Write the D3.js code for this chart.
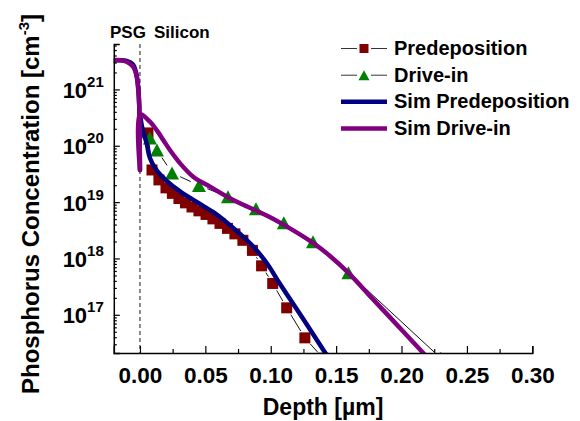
<!DOCTYPE html>
<html>
<head>
<meta charset="utf-8">
<script src="https://cdn.jsdelivr.net/npm/d3@7"></script>
<style>
  body { margin: 0; background: #fff; }
  svg { display: block; }
  text { font-family: "Liberation Sans", Arial, sans-serif; font-weight: bold; fill: #000; }
</style>
</head>
<body>
<svg id="chart" width="580" height="421"></svg>
<script>
// Measured phosphorus profiles (depth in µm, concentration in cm^-3)
const predepDepth = [0.0061, 0.0092, 0.0145, 0.0199, 0.0248, 0.0298, 0.0348, 0.0398, 0.0451, 0.0505,
                     0.0558, 0.0612, 0.0669, 0.0726, 0.0787, 0.0860, 0.0930, 0.1015, 0.1122, 0.1261, 0.1400];
const predepConc  = [1.69e20, 3.72e19, 2.48e19, 1.79e19, 1.43e19, 1.16e19, 9.7e18, 8.2e18, 7.0e18, 6.05e18,
                     5.04e18, 4.19e18, 3.42e18, 2.73e18, 2.1e18, 1.39e18, 7.4e17, 3.6e17, 1.33e17, 3.9e16, 1.7e16];

const driveDepth = [0.0076, 0.0130, 0.0245, 0.0451, 0.0673, 0.0887, 0.1100, 0.1323, 0.1594, 0.2300];
const driveConc  = [1.37e20, 8.4e19, 3.3e19, 1.98e19, 1.24e19, 7.6e18, 4.3e18, 1.97e18, 5.6e17, 1.7e16];

// Simulated profiles, PSG side (negative depth) then silicon side
const simPreDepth = [-0.0204, -0.015, -0.0102, -0.0055, -0.003, -0.0015, -0.0006, 0, 0, 0.0013, 0.0025, 0.0051,
                     0.0076, 0.0128, 0.0204, 0.0306, 0.0433, 0.0558, 0.0663, 0.0765, 0.0866, 0.0969, 0.1070,
                     0.1236, 0.1401, 0.1491];
const simPreConc  = [3.3e21, 3.3e21, 3.2e21, 2.8e21, 2.0e21, 1.2e21, 5.5e20, 3.7e19, 3.37e20, 2.34e20, 1.76e20, 1.11e20,
                     6.08e19, 3.65e19, 2.38e19, 1.55e19, 1.01e19, 6.7e18, 4.37e18, 2.73e18, 1.63e18, 8.3e17, 3.55e17,
                     9.3e16, 2.4e16, 1.15e16];

const simDriveDepth = [-0.0204, -0.015, -0.0102, -0.0051, -0.0025, -0.0013, -0.0005, 0, 0, 0.0076, 0.0128, 0.0178,
                       0.0229, 0.0306, 0.0407, 0.0535, 0.0713, 0.0969, 0.1101, 0.1323, 0.1453, 0.1598, 0.1758,
                       0.1937, 0.2166, 0.225];
const simDriveConc  = [3.3e21, 3.3e21, 3.1e21, 2.5e21, 1.68e21, 9.8e20, 4.9e20, 3.7e19, 3.6e20, 2.67e20, 1.9e20, 1.27e20,
                       8.4e19, 4.9e19, 2.83e19, 1.88e19, 1.09e19, 5.8e18, 3.95e18, 1.89e18, 1.11e18, 5.45e17, 2.17e17,
                       7.8e16, 2.1e16, 1.28e16];

const xTickValues = [0, 0.05, 0.10, 0.15, 0.20, 0.25, 0.30];
const xMinorValues = [0.025, 0.075, 0.125, 0.175, 0.225, 0.275];
const yTickExponents = [17, 18, 19, 20, 21];

const legendLabels = ["Predeposition", "Drive-in", "Sim Predeposition", "Sim Drive-in"];
const regionLabels = ["PSG", "Silicon"];

const colors = { pre: "#800000", drive: "#008000", simPre: "#000080", simDrive: "#800080" };

const svg = d3.select("#chart");
const plot = { left: 113.8, right: 532.3, top: 44, bottom: 353 };

const x = d3.scaleLinear().domain([-0.02, 0.30]).range([plot.left, plot.right]);
const y = d3.scaleLog().domain([2.1e16, 6.4e21]).range([plot.bottom, plot.top]);

svg.append("defs").append("clipPath").attr("id", "plotClip")
  .append("rect").attr("x", plot.left).attr("y", plot.top)
  .attr("width", plot.right - plot.left).attr("height", plot.bottom - plot.top);

// PSG / silicon interface
svg.append("line")
  .attr("x1", x(0)).attr("x2", x(0)).attr("y1", plot.top).attr("y2", plot.bottom)
  .attr("stroke", "#666").attr("stroke-width", 1.5).attr("stroke-dasharray", "4,3");

const g = svg.append("g").attr("clip-path", "url(#plotClip)");

// Thin connecting line with a gap around each symbol
function gappedSegments(depths, concs, gap) {
  const pts = depths.map((d, i) => [x(d), y(concs[i])]);
  const segs = [];
  for (let i = 0; i < pts.length - 1; i++) {
    const [x1, y1] = pts[i], [x2, y2] = pts[i + 1];
    const dx = x2 - x1, dy = y2 - y1, len = Math.hypot(dx, dy);
    if (len <= 2 * gap) continue;
    const ux = dx / len, uy = dy / len;
    segs.push([x1 + ux * gap, y1 + uy * gap, x2 - ux * gap, y2 - uy * gap]);
  }
  return segs;
}

function drawConnector(depths, concs, gap) {
  g.append("g").selectAll("line").data(gappedSegments(depths, concs, gap)).join("line")
    .attr("x1", d => d[0]).attr("y1", d => d[1]).attr("x2", d => d[2]).attr("y2", d => d[3])
    .attr("stroke", "#111").attr("stroke-width", 1);
}

const sq = 11;
drawConnector(predepDepth, predepConc, 8);
g.append("g").selectAll("rect").data(predepDepth).join("rect")
  .attr("x", (d, i) => x(d) - sq / 2).attr("y", (d, i) => y(predepConc[i]) - sq / 2)
  .attr("width", sq).attr("height", sq).attr("fill", colors.pre);

function triPath(cx, cy, b, h) {
  return `M${cx},${cy - h / 2}L${cx + b / 2},${cy + h / 2}L${cx - b / 2},${cy + h / 2}Z`;
}
drawConnector(driveDepth, driveConc, 9);
g.append("g").selectAll("path").data(driveDepth).join("path")
  .attr("d", (d, i) => triPath(x(d), y(driveConc[i]), 14, 13))
  .attr("fill", colors.drive);

const simLine = d3.line().curve(d3.curveCatmullRom.alpha(0.5));
function drawSim(depths, concs, color) {
  g.append("path")
    .attr("d", simLine(depths.map((d, i) => [x(d), y(concs[i])])))
    .attr("fill", "none").attr("stroke", color).attr("stroke-width", 4.5)
    .attr("stroke-linejoin", "round").attr("stroke-linecap", "round");
}
drawSim(simPreDepth, simPreConc, colors.simPre);
drawSim(simDriveDepth, simDriveConc, colors.simDrive);

// Axes
const xAxis = svg.append("g").attr("transform", `translate(0,${plot.bottom})`)
  .call(d3.axisBottom(x).tickValues(xTickValues).tickSize(-7).tickFormat(d3.format(".2f")));
svg.append("g").attr("transform", `translate(0,${plot.bottom})`)
  .call(d3.axisBottom(x).tickValues(xMinorValues).tickSize(-4).tickFormat(""))
  .call(a => a.select(".domain").remove());
xAxis.selectAll("text").attr("y", 30).attr("dy", null).attr("font-size", 22.5)
  .style("font-family", "'Liberation Sans', Arial, sans-serif").style("font-weight", "bold").attr("fill", "#000");

const yMajor = yTickExponents.map(e => Math.pow(10, e));
const yMinor = [];
for (let e = 16; e <= 21; e++) for (let m = 2; m <= 9; m++) {
  const v = m * Math.pow(10, e);
  if (v >= y.domain()[0] && v <= y.domain()[1]) yMinor.push(v);
}
svg.append("g").attr("transform", `translate(${plot.left},0)`)
  .call(d3.axisLeft(y).tickValues(yMajor).tickSize(-6).tickFormat(""));
svg.append("g").attr("transform", `translate(${plot.left},0)`)
  .call(d3.axisLeft(y).tickValues(yMinor).tickSize(-3).tickFormat(""))
  .call(a => a.select(".domain").remove());

svg.selectAll(".domain").attr("stroke-width", 1.5);
svg.selectAll(".tick line").attr("stroke-width", 1.2);

// Power-of-ten labels
const yLab = svg.append("g").selectAll("text").data(yTickExponents).join("text")
  .attr("x", plot.left - 10).attr("y", e => y(Math.pow(10, e)) + 8.5)
  .attr("text-anchor", "end");
yLab.append("tspan").attr("font-size", 22).text("10");
yLab.append("tspan").attr("font-size", 15).attr("dy", -11).text(e => e);

// Axis titles
svg.append("text").attr("x", (plot.left + plot.right) / 2).attr("y", 415)
  .attr("text-anchor", "middle").attr("font-size", 23).text("Depth [µm]");

const yTitle = svg.append("text").attr("transform", "translate(39,204) rotate(-90)")
  .attr("text-anchor", "middle").attr("font-size", 24);
yTitle.append("tspan").text("Phosphorus Concentration [cm");
yTitle.append("tspan").attr("font-size", 15).attr("dy", -10).text("-3");
yTitle.append("tspan").attr("dy", 10).text("]");

// Region labels above the interface
svg.append("text").attr("x", 110).attr("y", 38).attr("font-size", 17).text(regionLabels[0]);
svg.append("text").attr("x", 154).attr("y", 38).attr("font-size", 17).text(regionLabels[1]);

// Legend
const legend = svg.append("g");
const lx0 = 341, lx1 = 387, lxm = 364, ltx = 394;
const rowBase = [55, 81.7, 108.3, 135];
legendLabels.forEach((label, i) => {
  const cy = rowBase[i] - 6.5;
  if (i < 2) {
    legend.append("line").attr("x1", lx0).attr("x2", lxm - 7).attr("y1", cy).attr("y2", cy)
      .attr("stroke", "#333").attr("stroke-width", 1);
    legend.append("line").attr("x1", lxm + 7).attr("x2", lx1).attr("y1", cy).attr("y2", cy)
      .attr("stroke", "#333").attr("stroke-width", 1);
    if (i === 0) {
      legend.append("rect").attr("x", lxm - 4.5).attr("y", cy - 4.5).attr("width", 9).attr("height", 9)
        .attr("fill", colors.pre);
    } else {
      legend.append("path").attr("d", triPath(lxm, cy, 11, 10)).attr("fill", colors.drive);
    }
  } else {
    legend.append("line").attr("x1", lx0).attr("x2", lx1).attr("y1", cy).attr("y2", cy)
      .attr("stroke", i === 2 ? colors.simPre : colors.simDrive).attr("stroke-width", 4.5);
  }
  legend.append("text").attr("x", ltx).attr("y", rowBase[i]).attr("font-size", 20).text(label);
});
</script>
</body>
</html>
